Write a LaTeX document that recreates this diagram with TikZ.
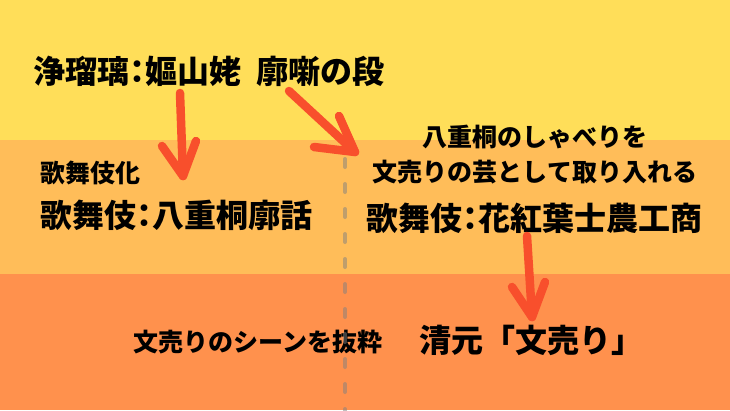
\documentclass[tikz,border=0pt]{standalone}
\usepackage{fontspec}
\newfontfamily\jpfont{Noto Sans CJK JP}[UprightFont={* Black}]
\newcommand\hw[1]{{\addfontfeature{RawFeature=+halt}#1}}
\definecolor{bandtop}{HTML}{FFDE59}
\definecolor{bandmid}{HTML}{FFBD59}
\definecolor{bandbot}{HTML}{FF914D}
\definecolor{arrowred}{HTML}{F84F2C}
\tikzset{
    bigtext/.style={font=\jpfont\fontsize{32}{32}\selectfont, inner sep=0pt},
    smalltext/.style={font=\jpfont\fontsize{25}{25}\selectfont, inner sep=0pt},
    redarrow/.style={draw=arrowred, line width=8.5pt, line cap=round, line join=round},
    divider/.style={draw=gray, opacity=.5, line width=4pt, line cap=round, dash pattern=on 8pt off 17pt},
}

\begin{document}
\begin{tikzpicture}[x=1pt, y=-1pt]
    \useasboundingbox (0,0) rectangle (730,410);
    \fill[bandtop] (0,0) rectangle (730,140);
    \fill[bandmid] (0,140) rectangle (730,274);
    \fill[bandbot] (0,274) rectangle (730,410);

    \node[bigtext] (joruri) at (209,71) {浄瑠璃\hw{：}嫗山姥\hspace{.5em}廓噺の段};
    \node[smalltext, anchor=west] (kabukika) at (40,173) {歌舞伎化};
    \node[bigtext, anchor=west] (yaegiri) at (40,215) {歌舞伎\hw{：}八重桐廓話};
    \node[smalltext] (shaberi) at (535,137) {八重桐のしゃべりを};
    \node[smalltext] (gei) at (535,172) {文売りの芸として取り入れる};
    \node[bigtext] (hanamomiji) at (534,218) {歌舞伎\hw{：}花紅葉士農工商};
    \node[smalltext] (bassui) at (258,342) {文売りのシーンを抜粋};
    \node[bigtext] (kiyomoto) at (531,340) {清元「文売り」};

    %\draw[divider] (345,150) -- (345,410);
    \coordinate (divtop) at (345,159);
    \coordinate (divbot) at (345,412);
    \draw[divider] (divtop) -- (divbot);

    \coordinate (a1s) at (180,93);
    \coordinate (a1t) at (183,176);
    \coordinate (a1l) at (162,146);
    \coordinate (a1r) at (196,141);
    \draw[redarrow] (a1s) -- (a1t);
    \draw[redarrow] (a1l) -- (a1t) -- (a1r);

    \coordinate (a2s) at (289,91);
    \coordinate (a2t) at (355,152);
    \coordinate (a2l) at (314,147);
    \coordinate (a2r) at (339,116);
    \draw[redarrow] (a2s) -- (a2t);
    \draw[redarrow] (a2l) -- (a2t) -- (a2r);

    \coordinate (a3s) at (527,236);
    \coordinate (a3t) at (532,317);
    \coordinate (a3l) at (512,287);
    \coordinate (a3r) at (545,282);
    \draw[redarrow] (a3s) -- (a3t);
    \draw[redarrow] (a3l) -- (a3t) -- (a3r);
\end{tikzpicture}
\end{document}
